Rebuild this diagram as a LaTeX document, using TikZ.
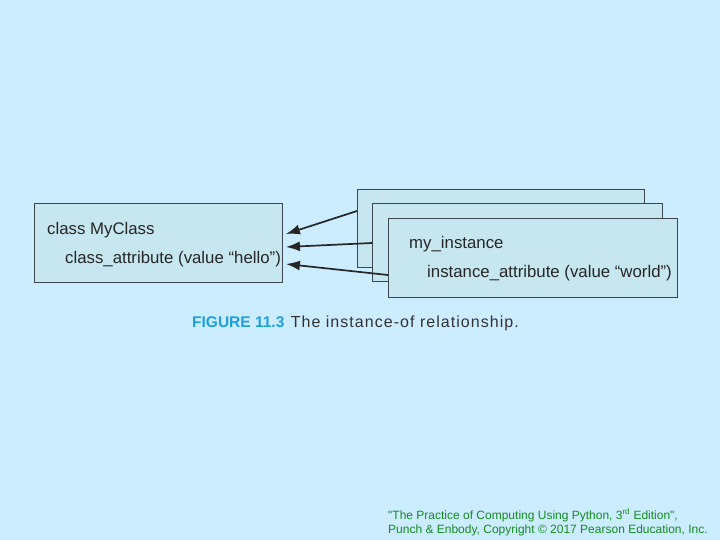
\documentclass[tikz,border=0pt]{standalone}
\usepackage{fontspec}
\setmainfont{Liberation Sans}
\newfontfamily\capfont[LetterSpace=6.5]{Liberation Sans}
\usetikzlibrary{arrows.meta,positioning}
\definecolor{bg}{RGB}{204,236,255}
\definecolor{boxfill}{RGB}{198,230,240}
\definecolor{boxline}{RGB}{60,70,76}
\definecolor{figblue}{RGB}{30,160,220}
\definecolor{copygreen}{RGB}{20,140,30}
\tikzset{
  box/.style={draw=boxline,fill=boxfill,line width=0.9pt,anchor=north west,inner sep=0pt},
  txt/.style={anchor=base west,inner sep=0pt,font=\fontsize{16.8}{19}\selectfont,text=black!85},
  arr/.style={line width=1.7pt,draw=black!85,-{Latex[length=14pt,width=10pt]}},
  copy/.style={anchor=base west,inner sep=0pt,font=\fontsize{12}{14}\selectfont,text=copygreen}
}
\begin{document}
\begin{tikzpicture}[x=1pt,y=-1pt]
\fill[bg] (0,0) rectangle (720,540);
\useasboundingbox (0,0) rectangle (720,540);
\node[box,minimum width=248pt,minimum height=79pt] (cls) at (34,203) {};
\node[box,minimum width=287pt,minimum height=78pt] (inst1) at (357,189) {};
\node[box,minimum width=290pt,minimum height=78pt] (inst2) at (372,203) {};
\node[box,minimum width=289pt,minimum height=79pt] (inst3) at (388,218) {};
\node[txt] (clsname) at (47,234) {class MyClass};
\node[txt] (clsattr) at (65,263) {class\_attribute (value ``hello'')};
\node[txt] (instname) at (409,248) {my\_instance};
\node[txt] (instattr) at (427,277) {instance\_attribute (value ``world'')};
\draw[arr] ([yshift=-22pt]inst1.north west) -- ([xshift=3pt,yshift=-31pt]cls.north east);
\draw[arr] ([yshift=-40pt]inst2.north west) -- ([xshift=3pt,yshift=-44pt]cls.north east);
\draw[arr] ([yshift=-57pt]inst3.north west) -- ([xshift=3pt,yshift=-61pt]cls.north east);
\node[anchor=base west,inner sep=0pt,text=figblue,font=\fontsize{15.5}{18}\bfseries] (fig) at (192,327) {FIGURE 11.3};
\node[anchor=base west,inner sep=0pt,text=black!80,font=\fontsize{16}{19}\capfont] (capt) at ([xshift=6pt]fig.base east) {The instance-of relationship.};
\node[copy] (copy1) at (388,519) {\textquotedbl The Practice of Computing Using Python, 3\textsuperscript{rd} Edition\textquotedbl,};
\node[copy] (copy2) at ([yshift=-14.5pt]copy1.base west) {Punch \& Enbody, Copyright © 2017 Pearson Education, Inc.};
\end{tikzpicture}
\end{document}
